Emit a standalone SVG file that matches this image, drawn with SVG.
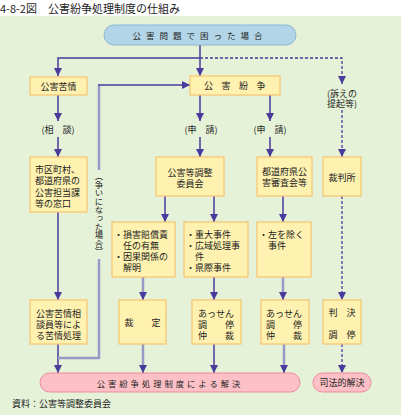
<svg xmlns="http://www.w3.org/2000/svg" width="401" height="415" viewBox="0 0 401 415">
<style>
text{font-family:"Noto Sans CJK JP","Noto Sans",sans-serif;fill:#222;font-size:9px;dominant-baseline:central}
.c{text-anchor:middle}
.box{fill:#fff2b0;stroke:#f7c46e;stroke-width:1.2}
.d{fill:none;stroke:#4a3a9c;stroke-width:1.5}
.g{fill:none;stroke:#9a98c6;stroke-width:2.5}
.ds{fill:none;stroke:#4a3a9c;stroke-width:1.3;stroke-dasharray:3 2}
</style>
<defs>
<marker id="a" markerUnits="userSpaceOnUse" markerWidth="10" markerHeight="10" refX="9" refY="5" orient="auto">
<path d="M1,1 L9,5 L1,9 Z" fill="#4a3a9c"/>
</marker>
</defs>
<rect x="0" y="0" width="401" height="415" fill="#fff"/>
<rect x="0" y="16" width="401" height="399" fill="#e5f2d8"/>
<text x="0" y="8" style="font-size:11px">4-8-2図　公害紛争処理制度の仕組み</text>

<g id="connectors">
<path class="d" d="M200,45 V76" marker-end="url(#a)"/>
<path class="d" d="M200,58 H58 V76" marker-end="url(#a)"/>
<path class="ds" d="M200,58 H342 V84" marker-end="url(#a)"/>
<path class="ds" d="M342,110 V157" marker-end="url(#a)"/>
<path class="ds" d="M342,196 V300" marker-end="url(#a)"/>
<path class="ds" d="M342,344 V373" marker-end="url(#a)"/>
<path class="d" d="M58,95 V121" marker-end="url(#a)"/>
<path class="d" d="M58,137 V157" marker-end="url(#a)"/>
<path class="d" d="M58,212 V300" marker-end="url(#a)"/>
<path class="d" d="M58,344 V373" marker-end="url(#a)"/>
<path class="g" d="M99,170 V85"/>
<path class="d" d="M98,85 H190" marker-end="url(#a)"/>
<path class="g" d="M99,259 V358 H58"/>
<path class="d" d="M200,95 V121" marker-end="url(#a)"/>
<path class="d" d="M200,137 V157" marker-end="url(#a)"/>
<path class="d" d="M270,95 V121" marker-end="url(#a)"/>
<path class="d" d="M270,137 V157" marker-end="url(#a)"/>
<path class="d" d="M165,196 V222" marker-end="url(#a)"/>
<path class="d" d="M214,196 V222" marker-end="url(#a)"/>
<path class="d" d="M283,196 V222" marker-end="url(#a)"/>
<path class="g" d="M143,277 V296"/>
<path class="d" d="M143,294 V300" marker-end="url(#a)"/>
<path class="d" d="M214,277 V300" marker-end="url(#a)"/>
<path class="g" d="M283,277 V296"/>
<path class="d" d="M283,294 V300" marker-end="url(#a)"/>
<path class="g" d="M143,344 V369"/>
<path class="d" d="M143,367 V373" marker-end="url(#a)"/>
<path class="d" d="M214,344 V373" marker-end="url(#a)"/>
<path class="g" d="M284,344 V369"/>
<path class="d" d="M284,367 V373" marker-end="url(#a)"/>
</g>

<g id="labels">
<text class="c" x="58" y="129">(相　談)</text>
<text class="c" x="201" y="129">(申　請)</text>
<text class="c" x="270" y="129">(申　請)</text>
<text class="c" x="342" y="93">(訴えの</text>
<text class="c" x="342" y="103">提起等)</text>
<text x="99" y="172" style="writing-mode:vertical-rl;font-size:8.4px;dominant-baseline:central">（争いになった場合）</text>
</g>

<g id="top">
<rect x="104" y="25" width="192" height="20" rx="10" fill="#b2d6e8" stroke="#8ab8d6" stroke-width="1"/>
<text class="c" x="200" y="35" style="font-size:8.5px;letter-spacing:5px">公害問題で困った場合</text>
</g>
<g id="kujo">
<rect class="box" x="30" y="77" width="57" height="18"/>
<text class="c" x="58.5" y="86">公害苦情</text>
</g>
<g id="funso">
<rect class="box" x="190" y="76" width="90" height="19"/>
<text class="c" x="239" y="85.5" style="letter-spacing:8.5px">公害紛争</text>
</g>
<g id="madoguchi">
<rect class="box" x="30" y="157" width="57" height="55"/>
<text x="35" y="169">市区町村、</text>
<text x="35" y="180.5">都道府県の</text>
<text x="35" y="192">公害担当課</text>
<text x="35" y="203.5">等の窓口</text>
</g>
<g id="kouchoi">
<rect class="box" x="156" y="157" width="68" height="39"/>
<text class="c" x="190" y="172">公害等調整</text>
<text class="c" x="190" y="183.5">委員会</text>
</g>
<g id="todofuken">
<rect class="box" x="257" y="157" width="55" height="39"/>
<text class="c" x="284.5" y="171">都道府県公</text>
<text class="c" x="284.5" y="182.5">害審査会等</text>
</g>
<g id="saibansho">
<rect class="box" x="323" y="157" width="38" height="39"/>
<text class="c" x="342" y="177">裁判所</text>
</g>
<g id="songai">
<rect class="box" x="112" y="222" width="63" height="55"/>
<text x="114" y="234">・損害賠償責</text>
<text x="123" y="245">任の有無</text>
<text x="114" y="256">・因果関係の</text>
<text x="123" y="267">解明</text>
</g>
<g id="judai">
<rect class="box" x="184" y="222" width="64" height="55"/>
<text x="186" y="234">・重大事件</text>
<text x="186" y="245">・広域処理事</text>
<text x="195" y="256">件</text>
<text x="186" y="267">・県際事件</text>
</g>
<g id="hidari">
<rect class="box" x="257" y="222" width="54" height="55"/>
<text x="259" y="234">・左を除く</text>
<text x="268" y="245">事件</text>
</g>
<g id="kujoshori">
<rect class="box" x="30" y="300" width="57" height="44"/>
<text class="c" x="58.5" y="313">公害苦情相</text>
<text class="c" x="58.5" y="324">談員等によ</text>
<text class="c" x="58.5" y="335">る苦情処理</text>
</g>
<g id="saitei">
<rect class="box" x="119" y="300" width="47" height="44"/>
<text class="c" x="142.5" y="322">裁　　定</text>
</g>
<g id="assen1">
<rect class="box" x="192" y="300" width="49" height="44"/>
<text x="198" y="313">あっせん</text>
<text x="198" y="324">調　　停</text>
<text x="198" y="335">仲　　裁</text>
</g>
<g id="assen2">
<rect class="box" x="261" y="300" width="48" height="44"/>
<text x="266" y="313">あっせん</text>
<text x="266" y="324">調　　停</text>
<text x="266" y="335">仲　　裁</text>
</g>
<g id="hanketsu">
<rect class="box" x="323" y="300" width="38" height="44"/>
<text class="c" x="342" y="312">判　決</text>
<text class="c" x="342" y="334">調　停</text>
</g>
<g id="kaiketsu">
<rect x="40" y="373" width="260" height="19" rx="9.5" fill="#fcc0c6" stroke="#ec8c9a" stroke-width="1"/>
<text class="c" x="170" y="382.5" style="font-size:8.3px;letter-spacing:3px">公害紛争処理制度による解決</text>
</g>
<g id="shiho">
<rect x="313" y="373" width="58" height="19" rx="9.5" fill="#fcc0c6" stroke="#ec8c9a" stroke-width="1"/>
<text class="c" x="342" y="382.5">司法的解決</text>
</g>
<text x="12" y="403">資料：公害等調整委員会</text>
</svg>
